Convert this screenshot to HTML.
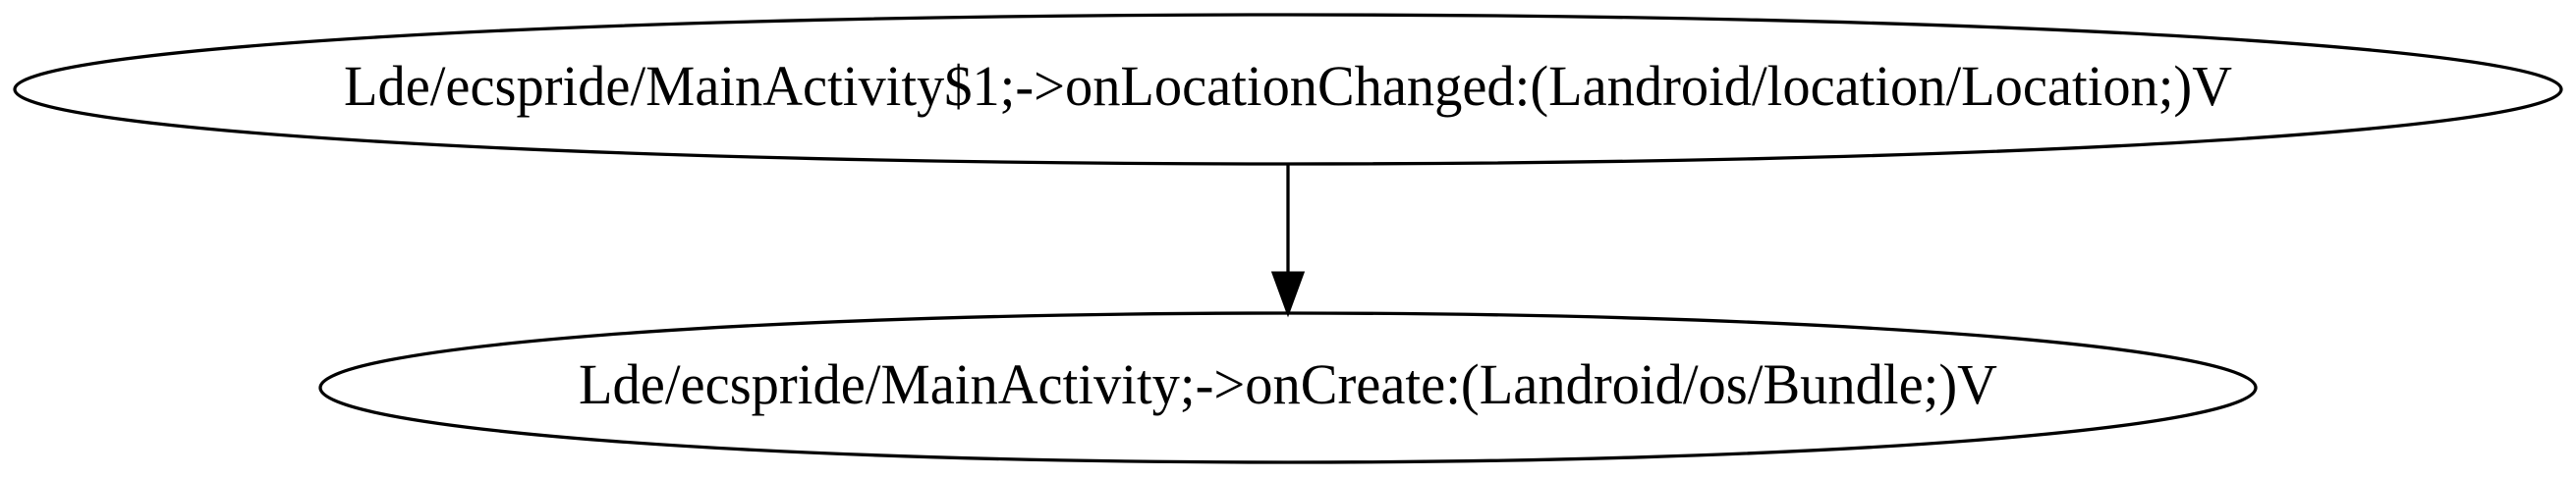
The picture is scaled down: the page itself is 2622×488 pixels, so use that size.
<!DOCTYPE html>
<html><head><style>html,body{margin:0;padding:0;background:#fff;}</style></head>
<body>
<svg width="2622" height="483" viewBox="0 0 2622 483" xmlns="http://www.w3.org/2000/svg">
<rect width="2622" height="483" fill="#fff"/>
<ellipse cx="1311" cy="91" rx="1296" ry="76" fill="none" stroke="#000" stroke-width="3.3"/>
<text x="1311" y="107" text-anchor="middle" font-family="Liberation Serif, serif" font-size="58" textLength="1922" lengthAdjust="spacingAndGlyphs">Lde/ecspride/MainActivity$1;-&gt;onLocationChanged:(Landroid/location/Location;)V</text>
<ellipse cx="1311" cy="395" rx="985" ry="76" fill="none" stroke="#000" stroke-width="3.3"/>
<text x="1311" y="411" text-anchor="middle" font-family="Liberation Serif, serif" font-size="58" textLength="1444" lengthAdjust="spacingAndGlyphs">Lde/ecspride/MainActivity;-&gt;onCreate:(Landroid/os/Bundle;)V</text>
<line x1="1311" y1="167" x2="1311" y2="280" stroke="#000" stroke-width="3.3"/>
<polygon points="1296,278 1326,278 1311,319" fill="#000" stroke="#000" stroke-width="3"/>
</svg>
</body></html>
